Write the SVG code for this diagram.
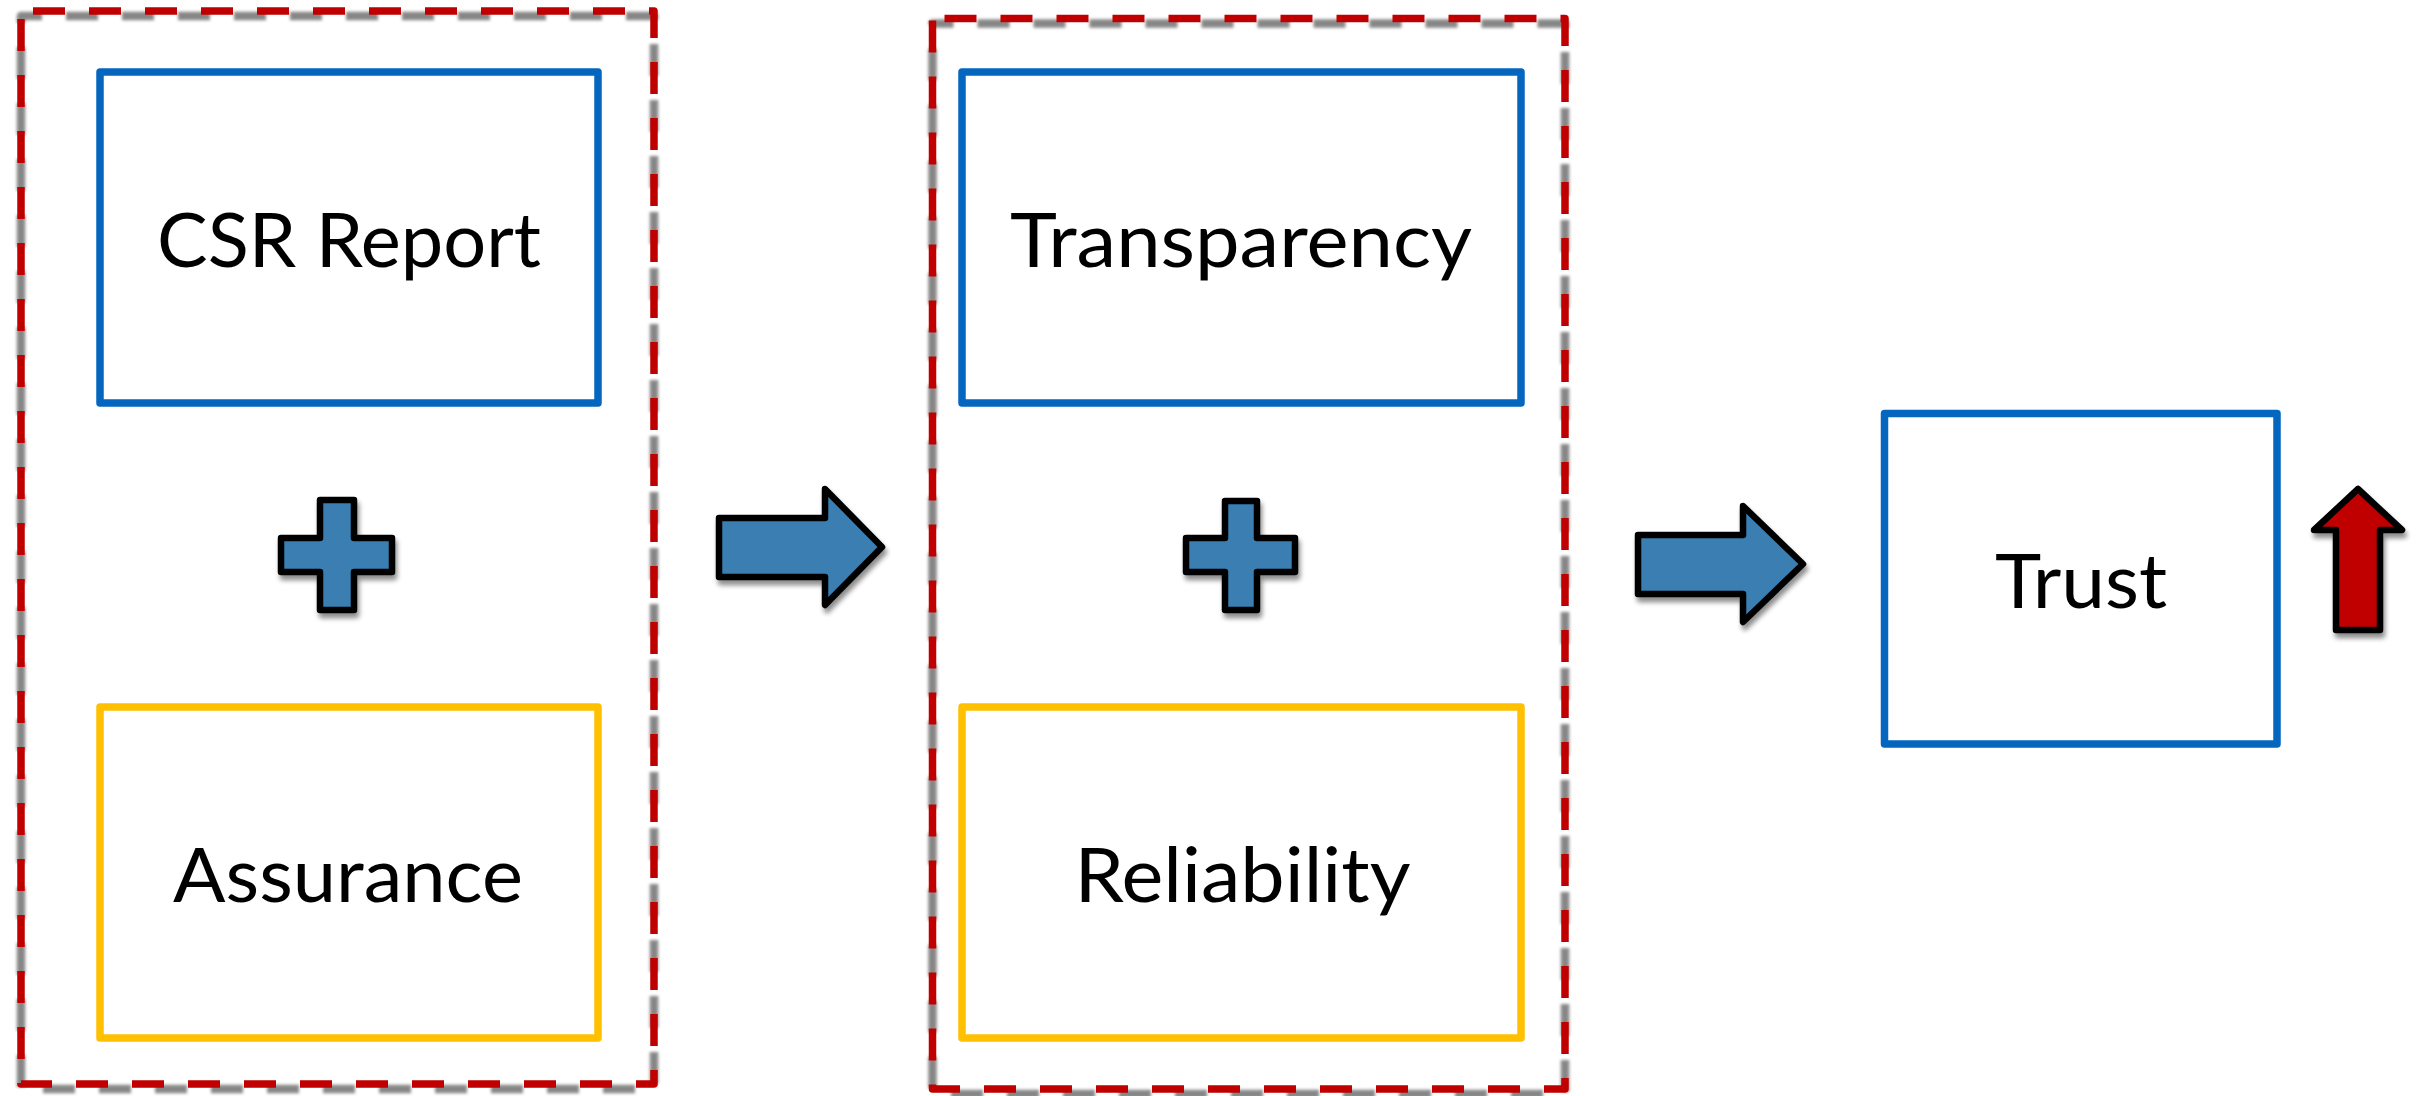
<svg xmlns="http://www.w3.org/2000/svg" width="2416" height="1096" viewBox="0 0 2416 1096">
  <defs>
    <style>
      .label { font-family: Lato, "Open Sans", "Liberation Sans", sans-serif; font-size: 75px; fill: #000000; text-anchor: middle; }
      .box-blue { fill: #FFFFFF; stroke: #0566C0; stroke-width: 7.5; stroke-linejoin: round; }
      .box-gold { fill: #FFFFFF; stroke: #FFC000; stroke-width: 7.5; stroke-linejoin: round; }
      .group-frame { fill: none; stroke: #C00000; stroke-width: 7.5; stroke-dasharray: 32 24; stroke-dashoffset: 44; stroke-linejoin: round; }
      .group-shade { fill: none; stroke: #7A7A7A; stroke-width: 8.5; stroke-dasharray: 32 24; stroke-dashoffset: 11; stroke-linejoin: round; opacity: 0.9; }
      .glyph { stroke: #000000; stroke-width: 6.5; stroke-linejoin: round; }
      .glyph-blue { fill: #3A7EB2; }
      .glyph-red { fill: #C00000; }
    </style>
    <filter id="soft" x="-5%" y="-5%" width="110%" height="110%">
      <feGaussianBlur stdDeviation="1.8"/>
    </filter>
    <filter id="drop" x="-30%" y="-30%" width="160%" height="160%">
      <feGaussianBlur in="SourceAlpha" stdDeviation="2.5"/>
      <feOffset dx="2" dy="5" result="b"/>
      <feComponentTransfer><feFuncA type="linear" slope="0.45"/></feComponentTransfer>
      <feMerge><feMergeNode/><feMergeNode in="SourceGraphic"/></feMerge>
    </filter>
  </defs>

  <rect width="2416" height="1096" fill="#FFFFFF"/>

  <!-- dashed grouping frames -->
  <g id="group-inputs">
    <rect class="group-shade" x="21" y="16" width="633" height="1073" filter="url(#soft)"/>
    <rect class="group-frame" x="21" y="11" width="633" height="1073"/>
  </g>
  <g id="group-outcomes">
    <rect class="group-shade" x="932.5" y="23.5" width="632.5" height="1070.5" filter="url(#soft)"/>
    <rect class="group-frame" x="932.5" y="18.5" width="632.5" height="1070.5"/>
  </g>

  <!-- boxes -->
  <g id="node-csr-report">
    <rect class="box-blue" x="100" y="72" width="498" height="331"/>
    <text class="label" x="349" y="267" textLength="384" lengthAdjust="spacingAndGlyphs">CSR Report</text>
  </g>
  <g id="node-assurance">
    <rect class="box-gold" x="100" y="707" width="498" height="331"/>
    <text class="label" x="348" y="902" textLength="350" lengthAdjust="spacingAndGlyphs">Assurance</text>
  </g>
  <g id="node-transparency">
    <rect class="box-blue" x="962" y="72" width="559" height="331"/>
    <text class="label" x="1241" y="267" textLength="462" lengthAdjust="spacingAndGlyphs">Transparency</text>
  </g>
  <g id="node-reliability">
    <rect class="box-gold" x="962" y="707" width="559" height="331"/>
    <text class="label" x="1242.5" y="902" textLength="336" lengthAdjust="spacingAndGlyphs">Reliability</text>
  </g>
  <g id="node-trust">
    <rect class="box-blue" x="1884.5" y="413.5" width="392.5" height="330.5"/>
    <text class="label" x="2081" y="608" textLength="172" lengthAdjust="spacingAndGlyphs">Trust</text>
  </g>

  <!-- plus signs -->
  <g id="plus-inputs" filter="url(#drop)">
    <path class="glyph glyph-blue" d="M320,500 H354 V538 H392 V572 H354 V610 H320 V572 H281 V538 H320 Z"/>
  </g>
  <g id="plus-outcomes" filter="url(#drop)">
    <path class="glyph glyph-blue" d="M1225,501 H1257 V538 H1295 V572 H1257 V610 H1225 V572 H1186 V538 H1225 Z"/>
  </g>

  <!-- connectors -->
  <g id="connectors" filter="url(#drop)">
    <path class="glyph glyph-blue" d="M719,518 H825 V489 L882,547 L825,605 V577 H719 Z"/>
    <path class="glyph glyph-blue" d="M1638,535 H1743 V506 L1803,564 L1743,622 V594 H1638 Z"/>
  </g>

  <!-- increase indicator -->
  <g id="trust-up" filter="url(#drop)">
    <path class="glyph glyph-red" d="M2358,489 L2402,530 H2380 V630 H2336 V530 H2314 Z"/>
  </g>
</svg>
